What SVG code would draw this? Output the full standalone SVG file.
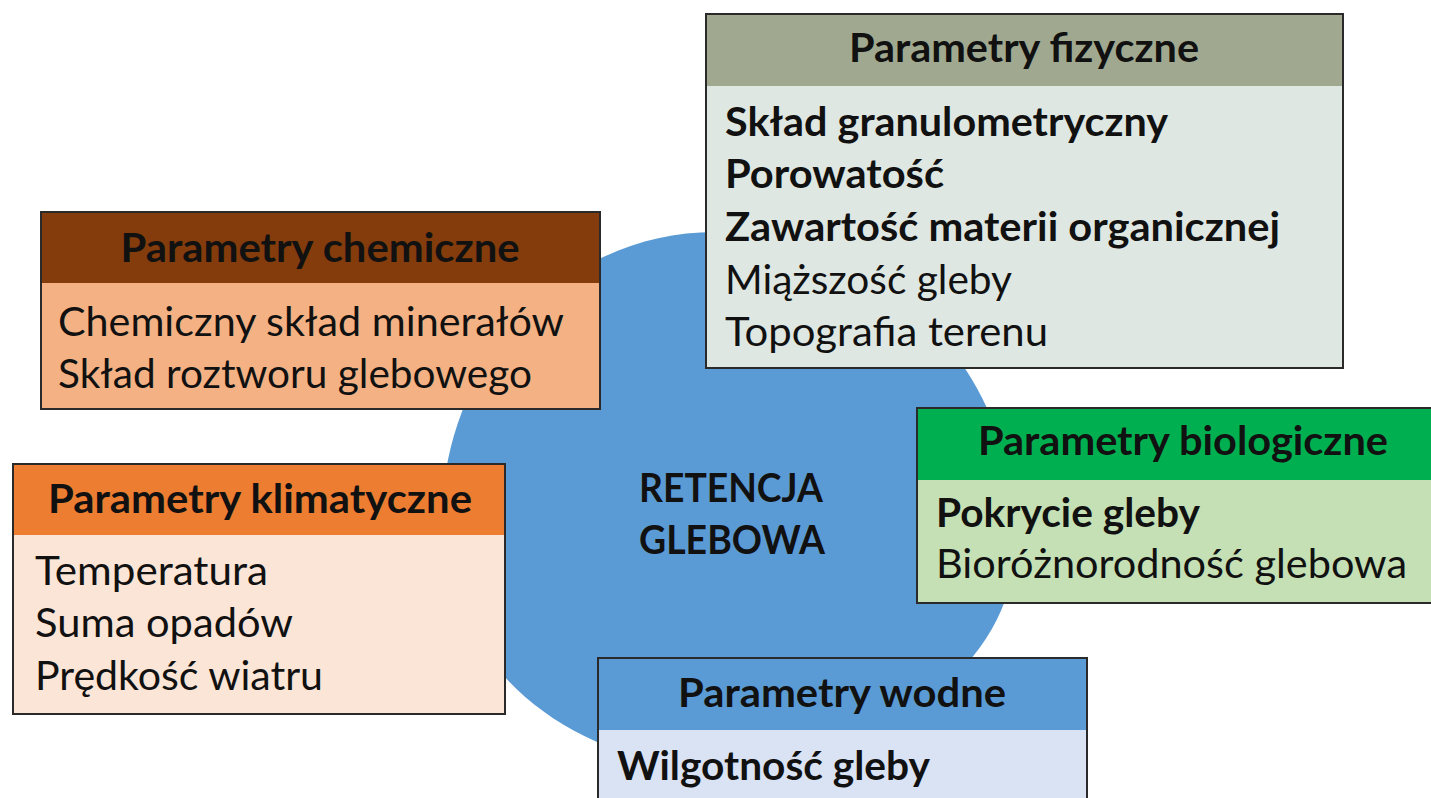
<svg xmlns="http://www.w3.org/2000/svg" width="1431" height="798" viewBox="0 0 1431 798">
  <style>
    text { font-family: Lato, "Liberation Sans", sans-serif; font-size: 40px; fill: #111; }
    .b { font-weight: 700; }
    .h { font-weight: 700; text-anchor: middle; }
    .frame { fill: none; stroke: #2a2a2a; stroke-width: 2; }
  </style>
  <rect width="1431" height="798" fill="#ffffff"/>

  <!-- central disc -->
  <g id="retencja">
    <path d="M715,232 C881,232 1016,370 1016,540 C1016,665 881,766 715,766 C564,766 442,656 442,520 C442,361 564,232 715,232 Z" fill="#5B9BD5"/>
    <text class="h" x="731" y="502" textLength="184" lengthAdjust="spacingAndGlyphs">RETENCJA</text>
    <text class="h" x="732" y="554" textLength="186" lengthAdjust="spacingAndGlyphs">GLEBOWA</text>
  </g>

  <g id="connectors"></g>

  <!-- physical parameters -->
  <g id="fizyczne">
    <rect x="706" y="14" width="637" height="354" fill="#DFE7E2"/>
    <rect x="706" y="14" width="637" height="72" fill="#A0A990"/>
    <rect class="frame" x="706" y="14" width="637" height="354"/>
    <text class="h" x="1024" y="62" textLength="350" lengthAdjust="spacingAndGlyphs">Parametry fizyczne</text>
    <text class="b" x="725" y="136" textLength="443" lengthAdjust="spacingAndGlyphs">Skład granulometryczny</text>
    <text class="b" x="725" y="188" textLength="219" lengthAdjust="spacingAndGlyphs">Porowatość</text>
    <text class="b" x="725" y="241" textLength="555" lengthAdjust="spacingAndGlyphs">Zawartość materii organicznej</text>
    <text x="725" y="294" textLength="287" lengthAdjust="spacingAndGlyphs">Miąższość gleby</text>
    <text x="725" y="346" textLength="323" lengthAdjust="spacingAndGlyphs">Topografia terenu</text>
  </g>

  <!-- chemical parameters -->
  <g id="chemiczne">
    <rect x="41" y="212" width="559" height="197" fill="#F4B183"/>
    <rect x="41" y="212" width="559" height="71" fill="#843C0C"/>
    <rect class="frame" x="41" y="212" width="559" height="197"/>
    <text class="h" x="320" y="262" textLength="399" lengthAdjust="spacingAndGlyphs">Parametry chemiczne</text>
    <text x="58" y="336" textLength="506" lengthAdjust="spacingAndGlyphs">Chemiczny skład minerałów</text>
    <text x="58" y="388" textLength="474" lengthAdjust="spacingAndGlyphs">Skład roztworu glebowego</text>
  </g>

  <!-- climatic parameters -->
  <g id="klimatyczne">
    <rect x="13" y="464" width="492" height="250" fill="#FBE5D6"/>
    <rect x="13" y="464" width="492" height="71" fill="#ED7D31"/>
    <rect class="frame" x="13" y="464" width="492" height="250"/>
    <text class="h" x="260" y="513" textLength="424" lengthAdjust="spacingAndGlyphs">Parametry klimatyczne</text>
    <text x="35" y="585" textLength="233" lengthAdjust="spacingAndGlyphs">Temperatura</text>
    <text x="35" y="637" textLength="258" lengthAdjust="spacingAndGlyphs">Suma opadów</text>
    <text x="35" y="690" textLength="288" lengthAdjust="spacingAndGlyphs">Prędkość wiatru</text>
  </g>

  <!-- biological parameters -->
  <g id="biologiczne">
    <rect x="917" y="408" width="532" height="195" fill="#C5E0B4"/>
    <rect x="917" y="408" width="532" height="72" fill="#00B050"/>
    <rect class="frame" x="917" y="408" width="532" height="195"/>
    <text class="h" x="1183" y="455" textLength="410" lengthAdjust="spacingAndGlyphs">Parametry biologiczne</text>
    <text class="b" x="936" y="527" textLength="264" lengthAdjust="spacingAndGlyphs">Pokrycie gleby</text>
    <text x="936" y="578" textLength="471" lengthAdjust="spacingAndGlyphs">Bioróżnorodność glebowa</text>
  </g>

  <!-- water parameters -->
  <g id="wodne">
    <rect x="598" y="658" width="489" height="150" fill="#DAE3F3"/>
    <rect x="598" y="658" width="489" height="72" fill="#5B9BD5"/>
    <rect class="frame" x="598" y="658" width="489" height="150"/>
    <text class="h" x="842" y="707" textLength="328" lengthAdjust="spacingAndGlyphs">Parametry wodne</text>
    <text class="b" x="617" y="780" textLength="313" lengthAdjust="spacingAndGlyphs">Wilgotność gleby</text>
  </g>
</svg>
